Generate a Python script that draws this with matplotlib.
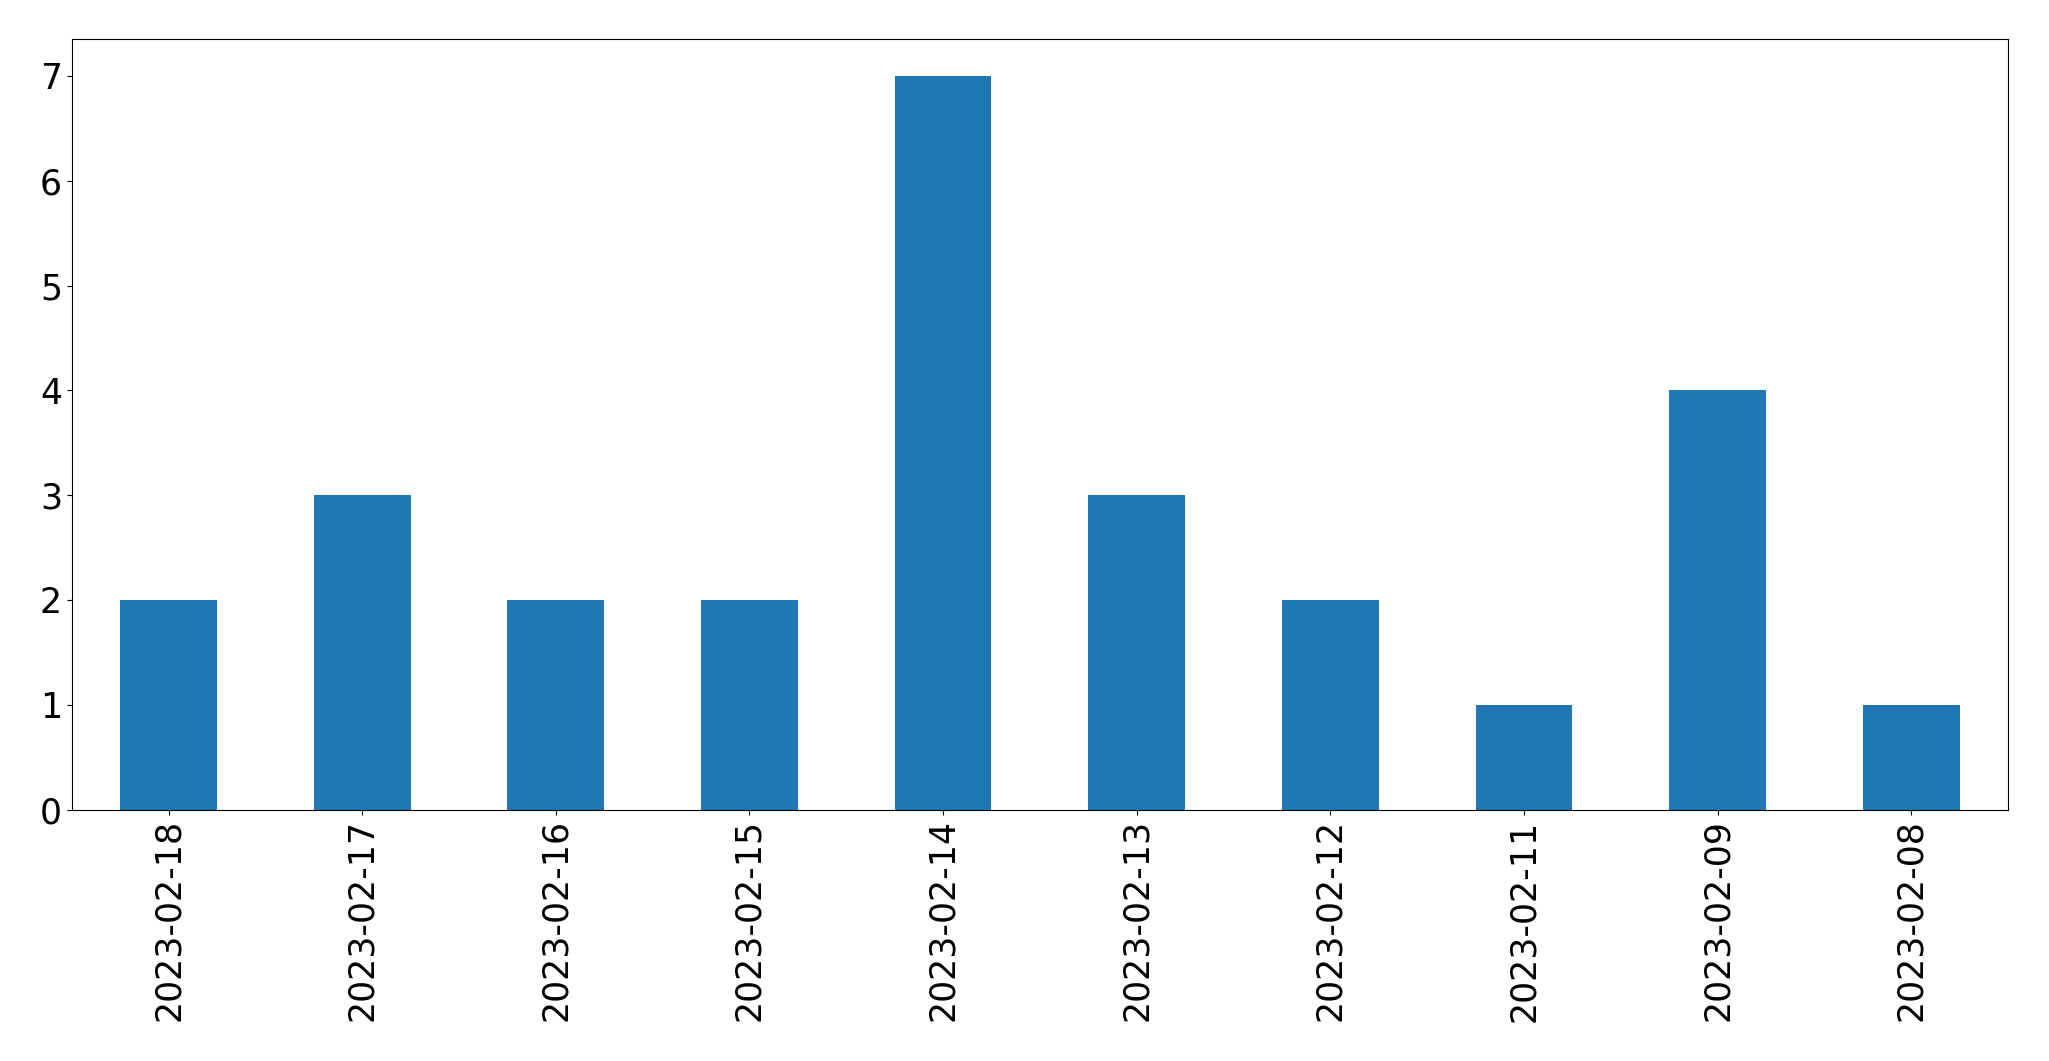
import numpy as np
import matplotlib
matplotlib.use("Agg")
import matplotlib.pyplot as plt

dates = ["2023-02-18", "2023-02-17", "2023-02-16", "2023-02-15", "2023-02-14",
         "2023-02-13", "2023-02-12", "2023-02-11", "2023-02-09", "2023-02-08"]
counts = [2, 3, 2, 2, 7, 3, 2, 1, 4, 1]

fig = plt.figure(figsize=(20.49, 10.61), dpi=100)
ax = fig.add_axes([0.035, 0.237, 0.945, 0.726])
x = np.arange(len(dates))
ax.bar(x, counts, width=0.5, color="#1f77b4")
ax.set_xlim(-0.5, len(dates) - 0.5)
ax.set_ylim(0, 7.35)
ax.set_xticks(x)
ax.set_xticklabels(dates, rotation=90)
ax.tick_params(axis="both", labelsize=25)
fig.savefig("out.png", dpi=100)
